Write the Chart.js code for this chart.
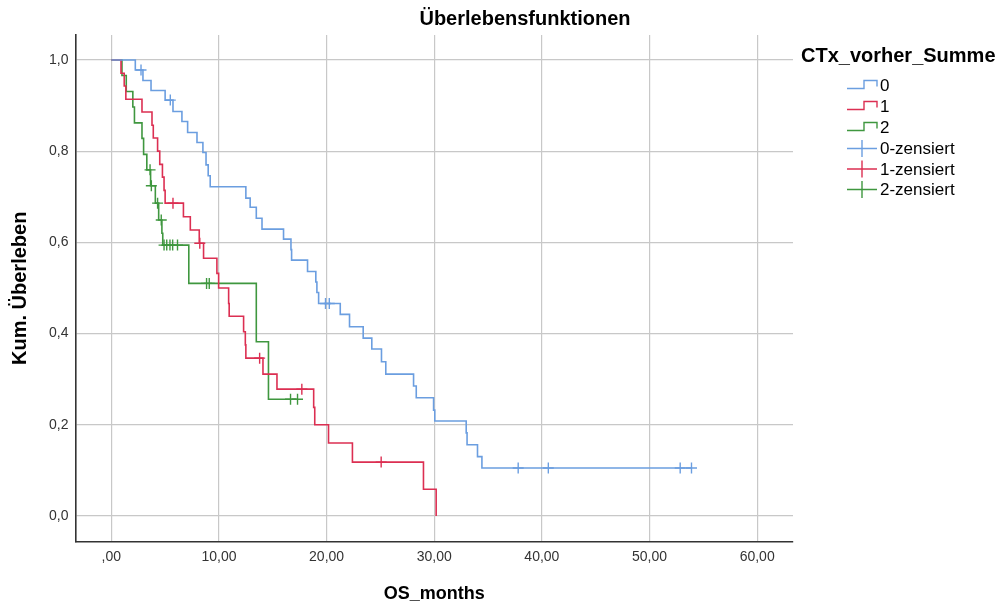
<!DOCTYPE html>
<html><head><meta charset="utf-8">
<script src="https://cdn.jsdelivr.net/npm/chart.js@4.4.1/dist/chart.umd.min.js"></script>
<style>html,body{margin:0;padding:0;background:#fff;}</style>
</head><body>
<canvas id="c" width="999" height="605"></canvas>
<script>
// ---- data ----
const chartTitle = 'Überlebensfunktionen';
const legendTitle = 'CTx_vorher_Summe';
const groupNames = ['0', '1', '2'];
const censorNames = ['0-zensiert', '1-zensiert', '2-zensiert'];
const xTicks = [0, 10, 20, 30, 40, 50, 60];
const yTicks = [0, 0.2, 0.4, 0.6, 0.8, 1.0];

// group 0 (blue): step times and survival after each step
const time0 = [0, 2.23, 2.94, 3.69, 5.0, 5.73, 6.56, 7.09, 7.96, 8.51, 8.8, 9.0, 9.19, 12.5, 12.9, 13.47, 14.0, 16.0, 16.69, 16.75, 18.23, 19.0, 19.1, 19.26, 21.27, 22.13, 23.4, 24.2, 25.1, 25.5, 28.08, 28.33, 29.94, 30.05, 32.97, 33.05, 34.02, 34.43, 53.9];
const surv0 = [1.0, 0.978, 0.955, 0.933, 0.912, 0.887, 0.865, 0.841, 0.819, 0.797, 0.77, 0.746, 0.722, 0.697, 0.677, 0.653, 0.629, 0.607, 0.584, 0.561, 0.536, 0.513, 0.49, 0.466, 0.442, 0.415, 0.39, 0.366, 0.338, 0.311, 0.285, 0.259, 0.232, 0.208, 0.182, 0.156, 0.13, 0.105, 0.105];
const cens0 = [2.76, 5.48, 19.9, 20.25, 37.8, 40.6, 52.85, 53.9];

// group 1 (red)
const time1 = [0, 0.9, 1.2, 1.35, 2.85, 3.78, 3.9, 4.3, 4.5, 4.75, 4.9, 5.0, 6.7, 7.34, 8.17, 8.57, 9.81, 9.97, 10.9, 10.95, 12.29, 12.45, 12.5, 14.09, 15.39, 18.8, 18.9, 20.18, 22.4, 29.0, 30.18];
const surv1 = [1.0, 0.971, 0.943, 0.914, 0.886, 0.857, 0.829, 0.8, 0.771, 0.743, 0.714, 0.686, 0.656, 0.627, 0.598, 0.565, 0.532, 0.5, 0.466, 0.438, 0.404, 0.375, 0.346, 0.311, 0.278, 0.238, 0.2, 0.16, 0.118, 0.0585, 0.0];
const cens1 = [5.73, 8.22, 13.78, 17.7, 25.07];

// group 2 (green)
const time2 = [0, 0.99, 1.39, 2.0, 2.15, 2.85, 3.0, 3.3, 3.65, 4.09, 4.4, 4.7, 4.78, 7.2, 13.47, 14.6, 17.3];
const surv2 = [1.0, 0.966, 0.931, 0.897, 0.862, 0.828, 0.793, 0.759, 0.724, 0.686, 0.649, 0.62, 0.594, 0.51, 0.382, 0.256, 0.256];
const cens2 = [3.6, 3.72, 4.3, 4.64, 4.9, 5.15, 5.45, 5.7, 6.15, 8.85, 9.1, 16.65, 17.3];

const colors = ['#6b9ee0', '#dc2f52', '#3f973f'];
const FONT = "'Liberation Sans', Arial, sans-serif";

// ---- helpers ----
function stepPoints(t, s) { return t.map((v, i) => ({ x: v, y: s[i] })); }
function survAt(t, s, x) { let v = s[0]; for (let i = 0; i < t.length; i++) { if (t[i] <= x) v = s[i]; } return v; }
function censorPoints(c, t, s) { return c.map(x => ({ x: x, y: survAt(t, s, x) })); }

const times = [time0, time1, time2];
const survs = [surv0, surv1, surv2];
const cens = [cens0, cens1, cens2];

const datasets = [];
for (let g = 0; g < 3; g++) {
  datasets.push({
    label: groupNames[g], data: stepPoints(times[g], survs[g]), stepped: 'before',
    borderColor: colors[g], borderWidth: 1.6, pointRadius: 0, fill: false, order: 2
  });
}
for (let g = 0; g < 3; g++) {
  datasets.push({
    label: censorNames[g], data: censorPoints(cens[g], times[g], survs[g]), showLine: false,
    pointStyle: 'cross', pointRadius: 5.5, pointBorderWidth: 1.4, borderColor: colors[g],
    pointBorderColor: colors[g], backgroundColor: colors[g], order: 1
  });
}

const customDraw = {
  id: 'customDraw',
  afterDraw(chart) {
    const ctx = chart.ctx;
    ctx.save();
    // chart title
    ctx.fillStyle = '#000';
    ctx.font = 'bold 20px ' + FONT;
    ctx.textAlign = 'center'; ctx.textBaseline = 'middle';
    ctx.fillText(chartTitle, 525, 19);
    // legend title
    ctx.textAlign = 'left';
    ctx.font = 'bold 20px ' + FONT;
    ctx.fillText(legendTitle, 801, 56);
    // legend items
    ctx.font = '17px ' + FONT;
    const rowY = [85, 106, 127, 148.5, 169, 189.5];
    const x0 = 847, x1 = 877;
    for (let i = 0; i < 6; i++) {
      const g = i % 3, y = rowY[i];
      ctx.strokeStyle = colors[g]; ctx.lineWidth = 1.4;
      ctx.beginPath();
      if (i < 3) {
        ctx.moveTo(x0, y + 3.5); ctx.lineTo(x0 + 17, y + 3.5); ctx.lineTo(x0 + 17, y - 4.5);
        ctx.lineTo(x1, y - 4.5); ctx.lineTo(x1, y + 1.5);
      } else {
        ctx.moveTo(x0, y); ctx.lineTo(x1, y);
        ctx.moveTo(x0 + 15, y - 8.5); ctx.lineTo(x0 + 15, y + 8.5);
      }
      ctx.stroke();
      ctx.fillStyle = '#000';
      ctx.textBaseline = 'middle';
      ctx.fillText(i < 3 ? groupNames[g] : censorNames[g], 880, y + 1);
    }
    ctx.restore();
  }
};

new Chart(document.getElementById('c'), {
  type: 'line',
  data: { datasets: datasets },
  options: {
    responsive: false, animation: false, devicePixelRatio: 1,
    layout: { padding: { left: 8, right: 206, top: 35, bottom: 0 } },
    plugins: { legend: { display: false }, title: { display: false }, tooltip: { enabled: false } },
    scales: {
      x: {
        type: 'linear', min: -3.33, max: 63.33,
        afterBuildTicks(ax) { ax.ticks = xTicks.map(v => ({ value: v })); },
        ticks: {
          autoSkip: false, maxRotation: 0, padding: 7, color: '#333',
          font: { family: FONT, size: 14 },
          callback: v => v === 0 ? ',00' : v.toFixed(2).replace('.', ',')
        },
        grid: { color: '#c8c8c8', lineWidth: 1.2, drawTicks: false },
        border: { display: true, color: '#333', width: 1.6 },
        title: { display: true, text: 'OS_months', color: '#000', font: { family: FONT, size: 18, weight: 'bold' }, padding: { top: 11, bottom: 0 } }
      },
      y: {
        type: 'linear', min: -0.0564, max: 1.0548,
        afterBuildTicks(ax) { ax.ticks = yTicks.map(v => ({ value: v })); },
        ticks: {
          autoSkip: false, padding: 7, color: '#333',
          font: { family: FONT, size: 14 },
          callback: v => v.toFixed(1).replace('.', ',')
        },
        grid: { color: '#c8c8c8', lineWidth: 1.2, drawTicks: false },
        border: { display: true, color: '#333', width: 1.6 },
        title: { display: true, text: 'Kum. Überleben', color: '#000', font: { family: FONT, size: 20, weight: 'bold' }, padding: { top: 0, bottom: 10 } }
      }
    }
  },
  plugins: [customDraw]
});
</script>
</body></html>
